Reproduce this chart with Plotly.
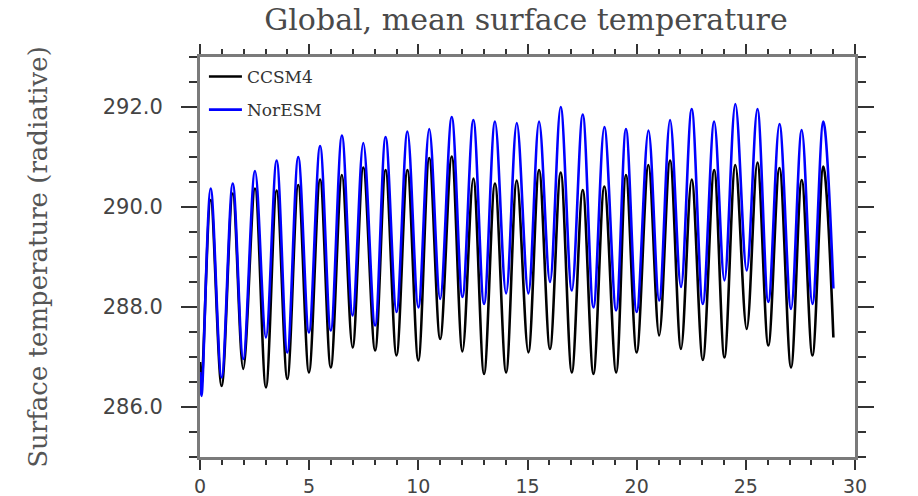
import plotly.graph_objects as go

# Time (years) at the turning points of the seasonal cycle
time_points = [0.0, 0.07, 0.49, 0.99, 1.5, 1.98, 2.52, 3.02, 3.51, 4.0, 4.5, 4.99, 5.5, 5.99,
               6.5, 6.99, 7.48, 8.02, 8.5, 9.0, 9.5, 10.0, 10.5, 11.0, 11.53, 12.02, 12.52,
               13.01, 13.51, 14.02, 14.51, 15.04, 15.53, 16.03, 16.52, 17.03, 17.53, 18.02,
               18.52, 19.06, 19.51, 20.0, 20.54, 21.03, 21.53, 22.03, 22.52, 23.03, 23.55,
               24.02, 24.52, 25.04, 25.53, 26.03, 26.54, 27.07, 27.56, 28.05, 28.55, 29.01]

ccsm4 = [286.9, 286.45, 290.14, 286.42, 290.27, 286.76, 290.37, 286.39, 290.33, 286.56,
         290.44, 286.69, 290.55, 286.79, 290.64, 287.19, 290.79, 287.13, 290.74, 287.03,
         290.74, 286.93, 290.98, 287.36, 291.01, 287.11, 290.57, 286.66, 290.47, 286.69,
         290.53, 287.09, 290.74, 287.16, 290.69, 286.69, 290.34, 286.66, 290.41, 286.69,
         290.64, 287.09, 290.84, 287.43, 290.93, 287.16, 290.55, 286.94, 290.74, 286.99,
         290.84, 287.56, 290.89, 287.23, 290.78, 286.79, 290.54, 287.03, 290.81, 287.39]

noresm = [286.7, 286.22, 290.37, 286.59, 290.47, 286.96, 290.72, 287.39, 290.93, 287.09,
          291.0, 287.49, 291.22, 287.53, 291.43, 287.83, 291.28, 287.63, 291.40, 287.90,
          291.51, 287.99, 291.56, 288.16, 291.80, 288.20, 291.74, 288.06, 291.71, 288.27,
          291.68, 288.27, 291.71, 288.50, 292.0, 288.33, 291.85, 287.99, 291.6, 287.93,
          291.56, 287.90, 291.53, 288.13, 291.74, 288.40, 291.96, 288.06, 291.71, 288.53,
          292.06, 288.73, 291.96, 288.1, 291.66, 287.96, 291.54, 288.06, 291.71, 288.37]

series_names = ["CCSM4", "NorESM"]
x_ticks = [0, 5, 10, 15, 20, 25, 30]
y_ticks = [286.0, 288.0, 290.0, 292.0]

fig = go.Figure()
fig.add_trace(go.Scatter(x=time_points, y=ccsm4, name=series_names[0], mode="lines",
                         line=dict(color="black", width=2.6, shape="spline", smoothing=1.0),
                         legendgroup="a"))
fig.add_trace(go.Scatter(x=time_points, y=noresm, name=series_names[1], mode="lines",
                         line=dict(color="#0000ff", width=2.6, shape="spline", smoothing=1.0),
                         legendgroup="b"))

serif = "DejaVu Serif"
axis_common = dict(showline=True, linecolor="#7a7a7a", linewidth=3, mirror="allticks",
                   ticks="outside", tickcolor="#333333", tickwidth=1.5,
                   showgrid=False, zeroline=False, automargin=False)

fig.update_layout(
    width=918, height=496,
    margin=dict(l=200, r=63, t=57, b=39),
    paper_bgcolor="white", plot_bgcolor="white",
    title=dict(text="Global, mean surface temperature", x=0.573, xanchor="center",
               xref="container", y=0.96, yanchor="middle", yref="container",
               font=dict(family=serif, size=30, color="#4a4a4a")),
    showlegend=True,
    legend=dict(x=0.006, y=0.995, xanchor="left", yanchor="top", bgcolor="rgba(0,0,0,0)",
                font=dict(family=serif, size=17, color="#333333"), tracegroupgap=8,
                itemwidth=33),
    xaxis=dict(range=[0, 30], tickvals=x_ticks, ticktext=[str(v) for v in x_ticks],
               ticklen=10, ticklabelstandoff=0,
               minor=dict(dtick=1, ticklen=5, ticks="outside", tickcolor="#333333"),
               tickfont=dict(family="DejaVu Sans", size=19, color="#444444"),
               **axis_common),
    yaxis=dict(range=[285, 293], tickvals=y_ticks, ticktext=[f"{v:.1f}" for v in y_ticks],
               ticklen=16, minor=dict(dtick=0.5, ticklen=8, ticks="outside", tickcolor="#333333"),
               tickfont=dict(family="DejaVu Sans", size=21, color="#444444"),
               ticklabelstandoff=14,
               title=dict(text="Surface temperature (radiative)", standoff=48,
                          font=dict(family=serif, size=26, color="#555555")),
               **axis_common),
)

fig.write_html("out.html", config={"displayModeBar": False},
               post_script="document.body.style.margin='0';")
